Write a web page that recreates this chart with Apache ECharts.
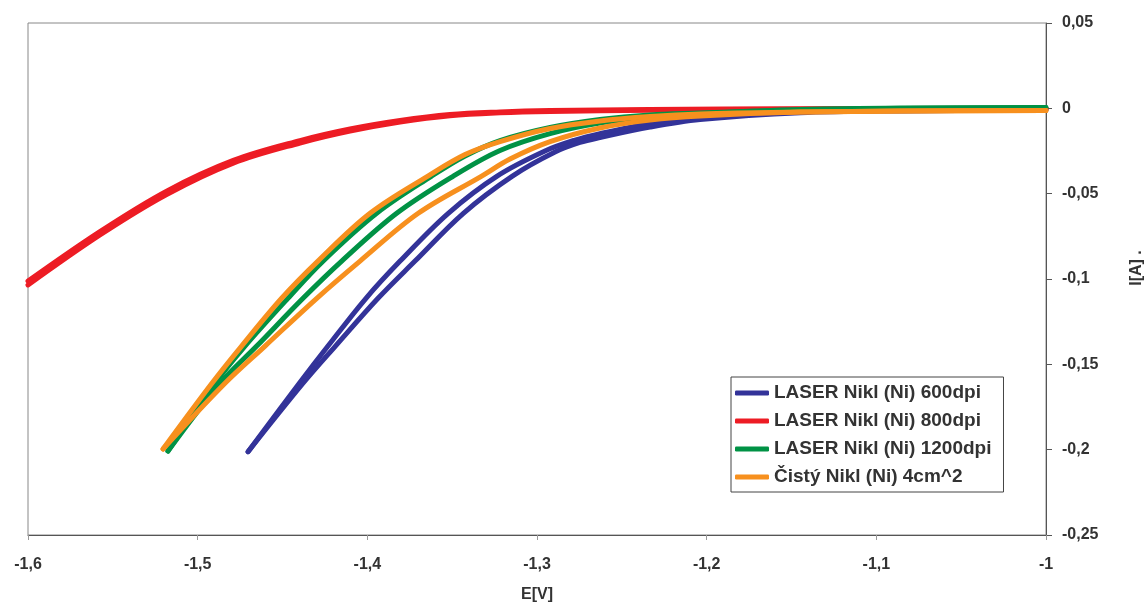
<!DOCTYPE html>
<html>
<head>
<meta charset="utf-8">
<script src="https://cdn.jsdelivr.net/npm/echarts@6/dist/echarts.min.js"></script>
<style>
  html, body { margin: 0; padding: 0; background: #fff; }
  #chart { width: 1147px; height: 608px; }
</style>
</head>
<body>
<div id="chart"></div>
<script>
(function () {
  "use strict";

  var FONT = "'Liberation Sans', Arial, sans-serif";
  var TEXT = "#333";

  var NAMES = ["LASER Nikl (Ni) 600dpi", "LASER Nikl (Ni) 800dpi", "LASER Nikl (Ni) 1200dpi", "\u010cist\u00fd Nikl (Ni) 4cm^2"];
  var COLORS = ["#333399", "#ed1c24", "#009245", "#f7901e"];

  var X_TICKS = [-1.6, -1.5, -1.4, -1.3, -1.2, -1.1, -1];
  var Y_TICKS = [-0.25, -0.2, -0.15, -0.1, -0.05, 0, 0.05];

  // each loop: forward branch from -1 V to the turning point, then back
  var blueOut = [[-1.0, -0.0007], [-1.0861, -0.001], [-1.145, -0.0017], [-1.2039, -0.0049], [-1.2334, -0.0088], [-1.2629, -0.0148],
    [-1.2776, -0.0186], [-1.2953, -0.025], [-1.3235, -0.0397], [-1.3523, -0.0615], [-1.3807, -0.0895], [-1.4008, -0.1113],
    [-1.4232, -0.1393], [-1.4401, -0.1611], [-1.4703, -0.2012]];
  var blueBack = [[-1.4703, -0.2012], [-1.4379, -0.1611], [-1.4188, -0.1393], [-1.3937, -0.1113], [-1.3719, -0.0895], [-1.3434, -0.0615],
    [-1.3145, -0.0397], [-1.2894, -0.0256], [-1.2747, -0.02], [-1.2629, -0.0171], [-1.2334, -0.011], [-1.2039, -0.0066],
    [-1.145, -0.0026], [-1.0861, -0.0015], [-1.0, -0.001]];

  var redOut = [[-1.6, -0.1012], [-1.5576, -0.0722], [-1.5183, -0.0485], [-1.479, -0.0305], [-1.4397, -0.0189], [-1.4102, -0.0121],
    [-1.3807, -0.0071], [-1.3513, -0.0036], [-1.3218, -0.0021], [-1.2923, -0.0013], [-1.2334, -0.0007], [-1.145, -0.0002], [-1.0, 0.0001]];
  var redBack = [[-1.6, -0.1035], [-1.5576, -0.0742], [-1.5183, -0.0505], [-1.479, -0.0321], [-1.4397, -0.0203], [-1.4102, -0.0133],
    [-1.3807, -0.008], [-1.3513, -0.0043], [-1.3218, -0.0026], [-1.2923, -0.0018], [-1.2334, -0.0011], [-1.145, -0.0005], [-1.0, -0.0002]];

  var greenOut = [[-1.0, 0.0005], [-1.0861, 0.0002], [-1.145, -0.0007], [-1.2039, -0.0028], [-1.2334, -0.0039], [-1.2629, -0.0066],
    [-1.2923, -0.0112], [-1.3218, -0.0189], [-1.3424, -0.0279], [-1.3621, -0.0397], [-1.3945, -0.0615], [-1.4261, -0.0895],
    [-1.4468, -0.1113], [-1.4721, -0.1393], [-1.4898, -0.1611], [-1.5175, -0.2008]];
  var greenBack = [[-1.5175, -0.2008], [-1.4868, -0.1611], [-1.4652, -0.1393], [-1.4379, -0.1113], [-1.4151, -0.0895], [-1.3827, -0.0615],
    [-1.3493, -0.0397], [-1.3218, -0.0247], [-1.2923, -0.0148], [-1.2629, -0.0086], [-1.2334, -0.0054], [-1.2039, -0.0033],
    [-1.145, -0.001], [-1.0861, -0.0001], [-1.0, 0.0003]];

  var orangeOut = [[-1.0, -0.0013], [-1.0861, -0.0016], [-1.145, -0.0022], [-1.2039, -0.0033], [-1.2334, -0.0048], [-1.2629, -0.0074],
    [-1.2923, -0.0118], [-1.3218, -0.0195], [-1.3424, -0.0271], [-1.3643, -0.0397], [-1.3984, -0.0615], [-1.4291, -0.0895],
    [-1.4505, -0.1113], [-1.4741, -0.1393], [-1.4916, -0.1611], [-1.5204, -0.1996]];
  var orangeBack = [[-1.5204, -0.1996], [-1.4839, -0.1611], [-1.4603, -0.1393], [-1.4298, -0.1113], [-1.4043, -0.0895], [-1.37, -0.0615],
    [-1.3326, -0.0397], [-1.3159, -0.0297], [-1.2923, -0.0195], [-1.2629, -0.0115], [-1.2334, -0.0069], [-1.2039, -0.0045],
    [-1.145, -0.0022], [-1.0861, -0.0016], [-1.0, -0.0013]];

  var BRANCHES = [
    [0, blueOut], [0, blueBack],
    [1, redOut], [1, redBack],
    [2, greenOut], [2, greenBack],
    [3, orangeOut], [3, orangeBack]
  ];

  function comma(v) {
    return String(Math.round(v * 100) / 100).replace(".", ",");
  }

  var series = BRANCHES.map(function (b) {
    return {
      type: "line",
      name: NAMES[b[0]],
      data: b[1],
      smooth: 0.35,
      symbol: "none",
      lineStyle: { color: COLORS[b[0]], width: 5, cap: "round", join: "round" },
      itemStyle: { color: COLORS[b[0]] },
      silent: true
    };
  });

  var chart = echarts.init(document.getElementById("chart"));
  chart.setOption({
    animation: false,
    backgroundColor: "#fff",
    textStyle: { fontFamily: FONT },
    grid: { left: 28, right: 101, top: 23, bottom: 73, show: true, borderColor: "#888", borderWidth: 1 },
    xAxis: {
      type: "value",
      min: X_TICKS[0], max: X_TICKS[X_TICKS.length - 1], interval: 0.1,
      name: "E[V]", nameLocation: "middle", nameGap: 52,
      nameTextStyle: { color: TEXT, fontSize: 16, fontWeight: "bold", fontFamily: FONT },
      axisLine: { onZero: false, lineStyle: { color: "#555", width: 1 } },
      axisTick: { show: true, length: 5, lineStyle: { color: "#999" } },
      axisLabel: { color: TEXT, fontSize: 16, fontWeight: "bold", fontFamily: FONT, margin: 22, formatter: comma },
      splitLine: { show: false }
    },
    yAxis: {
      type: "value", position: "right",
      min: Y_TICKS[0], max: Y_TICKS[Y_TICKS.length - 1], interval: 0.05,
      axisLine: { show: true, onZero: false, lineStyle: { color: "#555", width: 1 } },
      axisTick: { show: true, length: 6, lineStyle: { color: "#555" } },
      axisLabel: { color: TEXT, fontSize: 16, fontWeight: "bold", fontFamily: FONT, margin: 16, formatter: comma },
      splitLine: { show: false }
    },
    legend: {
      data: NAMES,
      orient: "vertical",
      left: 731, top: 377,
      backgroundColor: "#fff",
      borderColor: "#444", borderWidth: 1, borderRadius: 0,
      padding: [6, 12, 5, 4],
      itemGap: 8, itemWidth: 34, itemHeight: 5, itemTextGap: 4,
      icon: "roundRect",
      selectedMode: false,
      textStyle: { color: TEXT, fontSize: 19, fontWeight: "bold", fontFamily: FONT, lineHeight: 20 }
    },
    graphic: [{
      type: "text",
      x: 1137, y: 268,
      rotation: Math.PI / 2,
      style: { text: "I[A] .", fill: TEXT, fontSize: 16, fontWeight: "bold", fontFamily: FONT, align: "center", verticalAlign: "middle" }
    }],
    series: series
  });
})();
</script>
</body>
</html>
